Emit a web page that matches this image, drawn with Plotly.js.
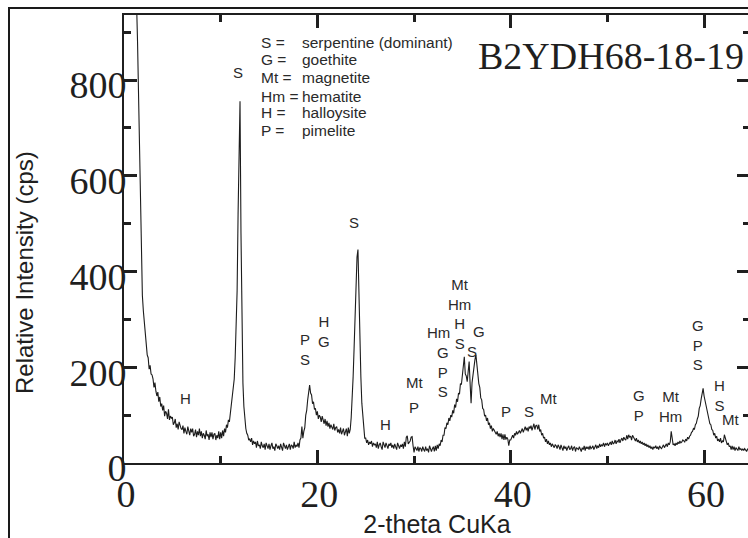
<!DOCTYPE html>
<html>
<head>
<meta charset="utf-8">
<script src="https://cdn.plot.ly/plotly-3.0.1.min.js"></script>
<style>
  html, body { margin:0; padding:0; width:748px; height:538px; overflow:hidden; background:#fff; }
  #chart { position:absolute; left:0; top:0; width:752px; height:538px; }
  #frame { position:absolute; left:8px; top:7px; width:900px; height:700px;
           border-left:2px solid #1a1a1a; border-top:2px solid #1a1a1a; pointer-events:none; }
</style>
</head>
<body>
<div id="chart"></div>
<div id="frame"></div>
<script>
// ---- data: XRD pattern (2-theta start/step, intensity in cps) ----
const twoThetaStart = 1.0;
const twoThetaStep = 0.1;
const intensity = [
  1300,1150,1030,960,880,780,655,520,420,350,
  318,296,262,250,226,220,196,204,186,184,
  176,158,168,150,140,148,128,138,118,124,
  110,120,98,108,104,92,112,90,98,94,
  96,80,84,92,74,82,70,86,76,72,
  70,78,62,74,66,60,76,68,58,72,
  64,72,56,60,70,54,66,58,72,56,
  66,52,62,58,50,68,56,60,48,64,
  54,64,50,60,62,48,58,52,66,50,
  64,52,68,56,72,64,80,74,90,86,
  104,114,130,150,175,220,290,360,520,690,
  756,480,250,167,118,88,72,62,58,48,
  50,44,52,38,46,40,44,32,46,36,
  38,30,44,36,32,40,28,42,34,30,
  40,28,36,42,30,34,26,40,36,30,
  36,28,40,32,26,42,34,30,38,28,
  34,40,28,38,36,30,44,32,38,34,
  42,32,48,52,76,52,66,74,100,110,
  132,146,163,146,142,124,128,112,114,100,
  108,92,100,96,86,98,90,82,92,78,
  88,76,84,72,80,74,70,82,68,74,
  76,64,70,62,74,60,68,72,58,66,
  72,56,74,62,70,95,132,180,240,320,
  390,430,446,340,264,180,125,96,72,52,
  52,42,48,38,44,40,46,34,42,38,
  40,32,44,30,38,42,34,28,44,36,
  32,42,36,30,40,36,42,32,38,30,
  40,34,28,42,36,30,38,34,40,30,
  44,34,54,57,40,44,46,54,55,36,
  22,34,28,26,34,24,32,30,24,34,
  28,24,34,26,30,22,36,28,24,30,
  34,24,36,26,38,30,40,36,48,44,
  58,58,74,72,84,80,94,88,100,96,
  110,104,122,116,134,128,146,144,166,164,
  184,200,222,186,182,170,204,212,166,125,
  168,186,205,216,226,200,188,166,158,136,
  132,114,112,98,100,88,94,80,84,72,
  78,66,72,68,62,60,66,56,62,54,
  62,50,60,48,60,49,54,50,36,48,
  48,56,58,52,62,58,66,60,64,68,
  62,70,72,64,70,76,68,74,66,76,
  72,78,68,76,82,70,78,79,70,80,
  66,70,58,62,52,54,44,50,40,46,
  38,42,34,40,36,32,38,36,30,38,
  34,28,38,32,26,36,30,34,26,32,
  36,28,30,36,26,32,34,24,32,30,
  28,34,30,24,32,28,36,26,34,30,
  34,28,36,30,32,36,28,34,38,30,
  36,32,40,34,38,36,42,34,40,38,
  42,36,40,44,38,46,40,42,48,40,
  46,44,50,42,48,52,46,54,50,48,
  58,50,59,54,56,48,58,52,50,46,
  52,44,48,42,46,40,44,38,42,36,
  40,34,38,32,36,30,34,28,34,31,
  36,30,34,28,36,32,30,34,38,32,
  36,40,34,42,38,44,66,46,38,40,
  36,42,38,44,40,46,42,44,48,46,
  44,50,46,54,50,56,58,64,66,72,
  70,80,83,92,98,114,120,134,144,156,
  140,130,116,110,96,92,82,80,70,68,
  58,62,52,56,46,50,44,52,42,46,
  44,59,50,46,38,42,34,36,28,36,
  28,34,26,32,30,26,34,28,30,26,
  30,26,30,28,24,30,26
];

// ---- peak labels (stacked mineral codes, 2-theta, intensity) ----
const peakLabels = ["S","H","P<br>S","H<br>G","S","H","Mt","P",
  "Hm","G<br>P<br>S","Mt<br>Hm<br>H<br>S","S","G",
  "P","S","Mt","G<br>P","Mt<br>Hm","G<br>P<br>S","H<br>S","Mt"];
const peakLabelX = [11.79,6.41,18.67,20.69,23.79,27.0,30.0,30.0,
  32.48,33.0,34.7,36.0,36.72,
  39.52,41.9,43.86,53.22,56.48,59.42,61.6,62.7];
const peakLabelY = [815,134,237,274,502,80,168,115,
  272,190,312,234,274,
  107,107,134,120,119,247,142,91];

// ---- legend key ----
const legendCodes = ["S =","G =","Mt =","Hm =","H =","P ="];
const legendNames = ["serpentine (dominant)","goethite","magnetite","hematite","halloysite","pimelite"];
const legendY = [879,842,805,766,732,694];

// ---- axes ----
const xTickVals = [0,20,40,60];
const yTickVals = [0,200,400,600,800];
const sampleName = "B2YDH68-18-19";
const xTitle = "2-theta CuKa";
const yTitle = "Relative Intensity (cps)";

const ink = "#1f1f1f";
const sans = "Liberation Sans, Arial";
const serif = "Liberation Serif, Times New Roman";
const annotations = [];
for (let i = 0; i < peakLabels.length; i++) {
  annotations.push({x: peakLabelX[i], y: peakLabelY[i], xref:"x", yref:"y", text: peakLabels[i],
    showarrow:false, xanchor:"center", yanchor:"middle", align:"center", borderpad:0,
    font:{family:sans, size:15, color:"#2a2a2a"}});
}
for (let i = 0; i < legendCodes.length; i++) {
  annotations.push({x: 14.07, y: legendY[i], xref:"x", yref:"y", text: legendCodes[i],
    showarrow:false, xanchor:"left", yanchor:"middle", borderpad:0,
    font:{family:sans, size:15.5, color:"#2a2a2a"}});
  annotations.push({x: 18.31, y: legendY[i], xref:"x", yref:"y", text: legendNames[i],
    showarrow:false, xanchor:"left", yanchor:"middle", borderpad:0,
    font:{family:sans, size:15.5, color:"#2a2a2a"}});
}
// y-axis title placed like the reference (offset below the plot centre)
annotations.push({x: -0.16, y: 0.426, xref:"paper", yref:"paper", text: yTitle, textangle:-90,
  showarrow:false, xanchor:"center", yanchor:"middle",
  font:{family:sans, size:24, color:ink}});

const trace = {
  type:"scatter", mode:"lines",
  x0: twoThetaStart, dx: twoThetaStep, y: intensity,
  line:{color:"#1c1c1c", width:1.1}, hoverinfo:"skip", showlegend:false
};

const layout = {
  width:752, height:538,
  margin:{l:124, r:2, t:15, b:75},
  paper_bgcolor:"#fff", plot_bgcolor:"#fff",
  showlegend:false,
  title:{text: sampleName, x: 478/752, xanchor:"left", xref:"container",
    y: 1 - 56/538, yanchor:"middle", yref:"container",
    font:{family:serif, size:38, color:ink}},
  xaxis:{range:[0,64.75], tickvals:xTickVals, ticks:"inside", ticklen:13, tickwidth:3, tickcolor:ink,
    minor:{dtick:10, tick0:0, ticks:"inside", ticklen:7, tickwidth:3, tickcolor:ink, showgrid:false},
    showline:true, linewidth:2, linecolor:ink, mirror:"ticks", showgrid:false, zeroline:false,
    tickfont:{family:serif, size:38, color:ink},
    ticklabelstandoff:-4, ticklabelshift:2,
    title:{text:xTitle, font:{family:sans, size:25, color:ink}, standoff:4}},
  yaxis:{range:[0,936], tickvals:yTickVals, ticks:"inside", ticklen:13, tickwidth:3, tickcolor:ink,
    minor:{dtick:100, tick0:0, ticks:"inside", ticklen:7, tickwidth:3, tickcolor:ink, showgrid:false},
    showline:true, linewidth:2, linecolor:ink, mirror:"ticks", showgrid:false, zeroline:false,
    tickfont:{family:serif, size:38, color:ink},
    ticklabelshift:5, ticklabelstandoff:-12},
  annotations: annotations
};

Plotly.newPlot("chart", [trace], layout, {displayModeBar:false, staticPlot:true});
</script>
</body>
</html>
